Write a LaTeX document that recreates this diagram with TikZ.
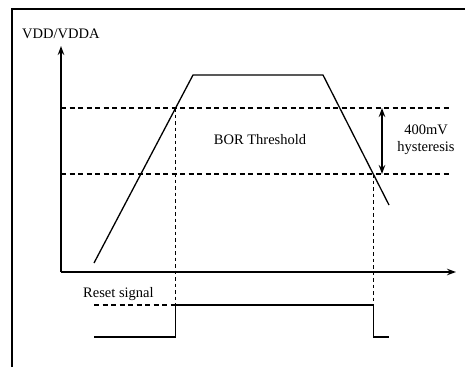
\documentclass[tikz,border=0pt]{standalone}
\usepackage{fontspec}
\setmainfont{Liberation Serif}
\usetikzlibrary{arrows.meta}
\begin{document}
\begin{tikzpicture}[x=1pt,y=-1pt,
  lbl/.style={inner sep=0pt,font=\fontsize{14.5}{16}\selectfont},
  ax/.style={line width=1.4pt,-{Stealth[length=9pt,width=6.5pt]}},
  sig/.style={line width=1.3pt},
  dsh/.style={line width=1.3pt,dash pattern=on 5pt off 3.5pt},
  vdsh/.style={line width=1.3pt,dash pattern=on 3.5pt off 3pt}]
\useasboundingbox (0,0) rectangle (465,367);
% frame
\draw[line width=1.4pt] (12,367) -- (12,9) -- (465,9);
% axis coordinates
\coordinate (O) at (61,272);
\coordinate (Ytop) at (61,46);
\coordinate (Xend) at (456,272);
\draw[ax] (O) -- (Ytop);
\draw[ax] (O) -- (Xend);
\node[lbl,anchor=base west] (vdd) at (22,38) {VDD/VDDA};
% thresholds
\coordinate (U0) at (61,108); \coordinate (U1) at (450,108);
\coordinate (L0) at (61,174); \coordinate (L1) at (450,174);
\draw[dsh] (U0) -- (U1);
\draw[dsh] (L0) -- (L1);
% waveform
\coordinate (w0) at (94,263);
\coordinate (w1) at (193,75);
\coordinate (w2) at (323,75);
\coordinate (w3) at (389,205);
\draw[sig] (w0) -- (w1) -- (w2) -- (w3);
% crossing verticals
\coordinate (cu) at (175.6,108);
\coordinate (cl) at (373.3,174);
\coordinate (ru) at (175.6,305);
\coordinate (rl) at (373.3,305);
\draw[vdsh] (cu) -- (ru);
\draw[vdsh] (cl) -- (rl);
% reset signal
\coordinate (r0) at (94,305);
\coordinate (q0) at (94,337);
\coordinate (q1) at (175.6,337);
\coordinate (q2) at (373.3,337);
\coordinate (q3) at (389,337);
\draw[dsh] (r0) -- (ru);
\draw[sig] (q0) -- (q1) -- (ru) -- (rl) -- (q2) -- (q3);
\node[lbl,anchor=base west] (rst) at (83,297) {Reset signal};
% labels
\node[lbl] (bor) at (260,140) {BOR Threshold};
\coordinate (h0) at (382,108);
\coordinate (h1) at (382,174);
\draw[line width=1.4pt,{Stealth[length=9pt,width=6.5pt]}-{Stealth[length=9pt,width=6.5pt]}] (h0) -- (h1);
\node[lbl,align=center] (hys) at (426,140) {400mV\\[1pt]hysteresis};
\end{tikzpicture}
\end{document}
